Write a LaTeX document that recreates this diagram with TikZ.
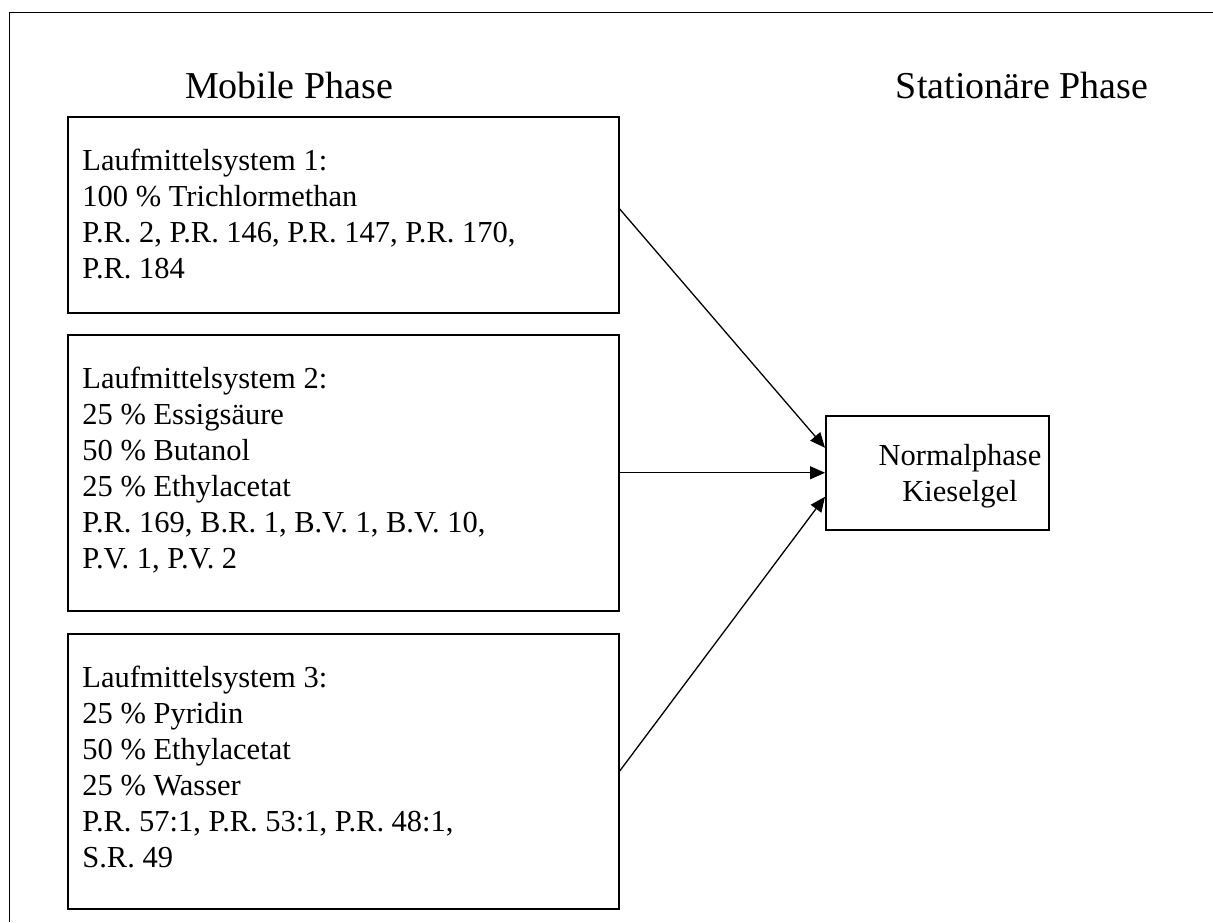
\documentclass[tikz,border=0pt]{standalone}
\usepackage{fontspec}
\setmainfont{Liberation Serif}
\usetikzlibrary{arrows.meta}

\tikzset{
  phasebox/.style={draw, line width=0.75pt, rectangle, inner sep=0pt, anchor=north west},
  boxtext/.style={inner sep=0pt, anchor=base west, font=\fontsize{15.25pt}{18pt}\selectfont},
  heading/.style={inner sep=0pt, anchor=base, font=\fontsize{19pt}{22pt}\selectfont},
  flow/.style={line width=0.65pt, -{Triangle[length=7.5pt,width=6.5pt]}}
}

\begin{document}
\begin{tikzpicture}[x=0.5pt, y=-0.5pt]
  \useasboundingbox (0,0) rectangle (1213,922);

  % page frame (top and left edges)
  \draw[line width=0.9pt] (1213,12.5) -- (9.5,12.5) -- (9.5,922);

  % column headings
  \node[heading] (hmob) at (289,98) {Mobile Phase};
  \node[heading] (hstat) at (1022,98) {Stationäre Phase};

  % solvent systems
  \node[phasebox, minimum width=275.5pt, minimum height=98pt] (b1) at (67,116) {};
  \node[phasebox, minimum width=275.5pt, minimum height=138pt] (b2) at (67,334) {};
  \node[phasebox, minimum width=275.5pt, minimum height=137.5pt] (b3) at (67,633) {};

  \node[boxtext] (t1) at (82,170) {\begin{tabular}[t]{@{}l@{}}
    Laufmittelsystem 1:\\
    100 \% Trichlormethan\\
    P.R. 2, P.R. 146, P.R. 147, P.R. 170,\\
    P.R. 184
  \end{tabular}};
  \node[boxtext] (t2) at (82,388) {\begin{tabular}[t]{@{}l@{}}
    Laufmittelsystem 2:\\
    25 \% Essigsäure\\
    50 \% Butanol\\
    25 \% Ethylacetat\\
    P.R. 169, B.R. 1, B.V. 1, B.V. 10,\\
    P.V. 1, P.V. 2
  \end{tabular}};
  \node[boxtext] (t3) at (82,687) {\begin{tabular}[t]{@{}l@{}}
    Laufmittelsystem 3:\\
    25 \% Pyridin\\
    50 \% Ethylacetat\\
    25 \% Wasser\\
    P.R. 57:1, P.R. 53:1, P.R. 48:1,\\
    S.R. 49
  \end{tabular}};

  % stationary phase
  \node[phasebox, minimum width=111.5pt, minimum height=57pt] (b4) at (825,415) {};
  \node[boxtext, anchor=base] (t4) at (960,465) {\begin{tabular}[t]{@{}c@{}}
    Normalphase\\
    Kieselgel
  \end{tabular}};

  % connectors
  \draw[flow] ([yshift=3pt]b1.east) -- ([yshift=12.5pt]b4.west);
  \draw[flow] (b2.east) -- (b4.west);
  \draw[flow] (b3.east) -- ([yshift=-12pt]b4.west);
\end{tikzpicture}
\end{document}
